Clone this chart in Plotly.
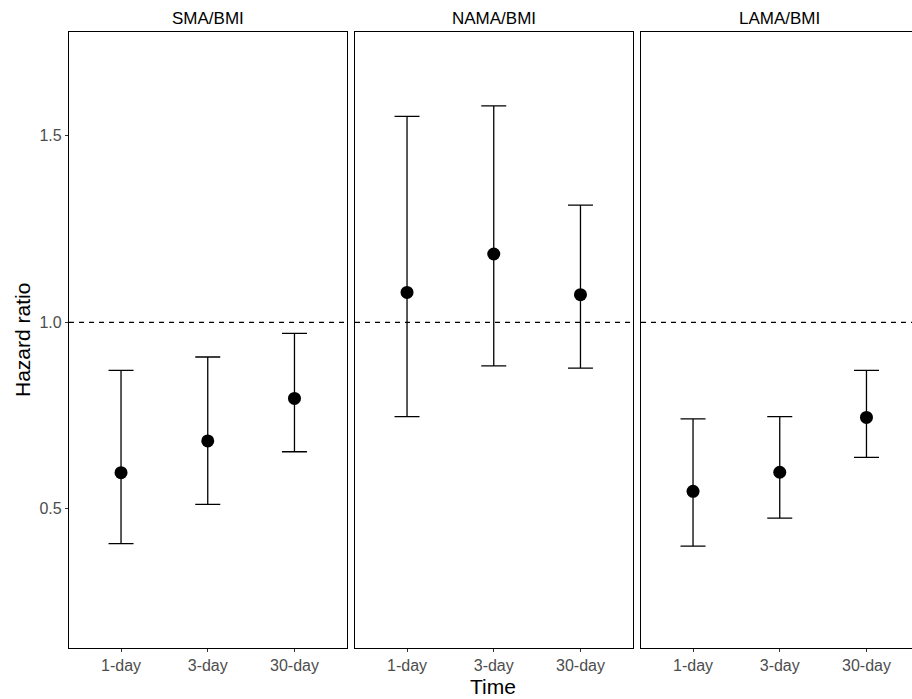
import plotly.graph_objects as go

panels = ["SMA/BMI", "NAMA/BMI", "LAMA/BMI"]
times = ["1-day", "3-day", "30-day"]
hr = [[0.597, 0.682, 0.796],
      [1.080, 1.183, 1.074],
      [0.547, 0.598, 0.745]]
lower = [[0.407, 0.512, 0.653],
         [0.747, 0.883, 0.877],
         [0.400, 0.475, 0.638]]
upper = [[0.871, 0.907, 0.970],
         [1.552, 1.580, 1.314],
         [0.741, 0.747, 0.871]]
y_ticks = [0.5, 1.0, 1.5]
y_tick_labels = ["0.5", "1.0", "1.5"]
ref_line = 1.0

FONT = "Liberation Sans, Arial, sans-serif"
W, H = 912, 699
ML, MR, MT, MB = 69, 0, 32, 51
PW = W - ML - MR
panel_px = 277.5
gap_px = 8.5
ppu = panel_px / 3.2

fig = go.Figure()
domains = []
for i in range(3):
    x0 = i * (panel_px + gap_px)
    x1 = min(x0 + panel_px, PW)
    domains.append((x0 / PW, x1 / PW, x0, x1))

for i, name in enumerate(panels):
    ax = "" if i == 0 else str(i + 1)
    err_plus = [u - h for u, h in zip(upper[i], hr[i])]
    err_minus = [h - l for h, l in zip(hr[i], lower[i])]
    fig.add_trace(go.Scatter(
        x=times, y=hr[i], mode="markers",
        marker=dict(color="black", size=13),
        error_y=dict(type="data", array=err_plus, arrayminus=err_minus,
                     symmetric=False, color="black", thickness=1.3, width=12.5),
        xaxis="x" + ax, yaxis="y" + ax, showlegend=False, cliponaxis=False))
    d0, d1, px0, px1 = domains[i]
    rng_end = -0.6 + (px1 - px0) / ppu
    xa = dict(domain=[d0, d1], type="category", categoryorder="array",
              categoryarray=times, range=[-0.6, rng_end],
              showline=True, linecolor="black", linewidth=1.3,
              mirror=True, ticks="outside", ticklen=3, tickcolor="#333",
              tickfont=dict(family=FONT, size=16, color="#4D4D4D"),
              showgrid=False, zeroline=False, fixedrange=True)
    ya = dict(domain=[0, 1], range=[0.127, 1.778], showgrid=False,
              zeroline=False, showline=True, linecolor="black", linewidth=1.3,
              mirror=(i < 2), fixedrange=True)
    if i == 0:
        ya.update(tickvals=y_ticks, ticktext=y_tick_labels,
                  ticks="outside", ticklen=3, tickcolor="#333",
                  tickfont=dict(family=FONT, size=16, color="#4D4D4D"))
    else:
        ya.update(showticklabels=False, ticks="", matches="y",
                  anchor="x" + ax)
        xa.update(anchor="y" + ax)
    fig.update_layout({"xaxis" + ax: xa, "yaxis" + ax: ya})
    fig.add_shape(type="line", xref="x" + ax + " domain", yref="y" + ax,
                  x0=0, x1=1, y0=ref_line, y1=ref_line,
                  line=dict(color="black", width=1.2, dash="5px,5px"))
    center_px = px0 + panel_px / 2
    fig.add_annotation(text=name, x=center_px / PW, y=1, xref="paper", yref="paper",
                       xanchor="center", yanchor="bottom", yshift=2, showarrow=False,
                       font=dict(family=FONT, size=17, color="black"))

fig.add_annotation(text="Hazard ratio", x=0, y=0.5, xref="paper", yref="paper",
                   textangle=-90, showarrow=False, xanchor="center", yanchor="middle",
                   xshift=-(ML - 22),
                   font=dict(family=FONT, size=21, color="black"))
fig.add_annotation(text="Time", x=(PW + 5.5) / 2 / PW, y=0, xref="paper", yref="paper",
                   xanchor="center", yanchor="middle", yshift=-38, showarrow=False,
                   font=dict(family=FONT, size=21, color="black"))

fig.update_layout(width=W, height=H, margin=dict(l=ML, r=MR, t=MT, b=MB),
                  paper_bgcolor="white", plot_bgcolor="white")
fig.write_html("out.html", config={"displayModeBar": False},
               post_script="document.body.style.margin='0';document.body.style.overflow='hidden';")
